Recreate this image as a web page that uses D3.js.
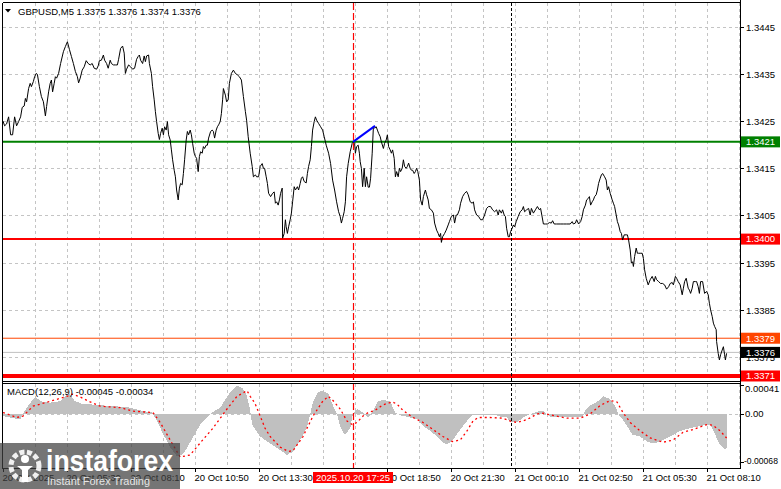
<!DOCTYPE html>
<html><head><meta charset="utf-8">
<script src="https://cdn.jsdelivr.net/npm/d3@7"></script>
<style>
body{margin:0;background:#fff;overflow:hidden}
text{font-family:'Liberation Sans',Arial,sans-serif;}
</style>
</head><body>
<svg id="c" width="781" height="489"></svg>
<script>
// ---------------- DATA ----------------
const symbolTitle = "GBPUSD,M5";
const ohlc = [1.3375, 1.3376, 1.3374, 1.3376];
const macdTitle = "MACD(12,26,9)";
const macdLast = [-0.00045, -0.00034];

// [minutes since 20 Oct 02:50, close]
const closeSeries = [
[0,1.34250],[4,1.34240],[9,1.34244],[14,1.34259],[19,1.34221],[24,1.34221],[29,1.34259],[34,1.34240],[39,1.34249],[44,1.34259],
[48,1.34279],[53,1.34282],[56,1.34298],[59,1.34291],[64,1.34319],[68,1.34330],[71,1.34323],[76,1.34334],[79,1.34344],[83,1.34351],
[86,1.34349],[91,1.34323],[96,1.34302],[101,1.34291],[106,1.34261],[109,1.34281],[114,1.34312],[118,1.34330],[121,1.34337],[124,1.34312],
[128,1.34330],[131,1.34344],[134,1.34341],[139,1.34351],[144,1.34372],[151,1.34397],[156,1.34408],[161,1.34418],[166,1.34402],[171,1.34387],
[176,1.34372],[181,1.34355],[186,1.34344],[189,1.34331],[193,1.34341],[198,1.34358],[203,1.34365],[208,1.34378],[213,1.34372],[218,1.34369],
[223,1.34372],[228,1.34362],[234,1.34360],[238,1.34367],[241,1.34378],[246,1.34379],[251,1.34390],[254,1.34379],[259,1.34372],[263,1.34362],
[268,1.34379],[271,1.34372],[276,1.34369],[281,1.34369],[286,1.34369],[289,1.34381],[294,1.34404],[299,1.34409],[303,1.34394],[306,1.34351],
[309,1.34360],[314,1.34369],[319,1.34365],[324,1.34360],[329,1.34362],[334,1.34381],[338,1.34387],[341,1.34390],[344,1.34379],[349,1.34372],
[353,1.34388],[356,1.34376],[359,1.34388],[364,1.34390],[366,1.34372],[371,1.34351],[374,1.34323],[378,1.34295],[381,1.34270],[384,1.34249],
[388,1.34224],[391,1.34211],[394,1.34224],[398,1.34235],[401,1.34221],[404,1.34238],[408,1.34231],[411,1.34249],[414,1.34221],[418,1.34210],
[421,1.34189],[424,1.34168],[428,1.34146],[431,1.34132],[434,1.34104],[438,1.34083],[441,1.34108],[444,1.34118],[448,1.34115],[451,1.34139],
[454,1.34168],[458,1.34210],[461,1.34228],[464,1.34221],[468,1.34231],[471,1.34221],[474,1.34203],[478,1.34182],[481,1.34175],[484,1.34171],
[488,1.34143],[491,1.34175],[494,1.34185],[498,1.34182],[501,1.34196],[504,1.34192],[508,1.34199],[511,1.34199],[514,1.34214],[519,1.34228],
[523,1.34231],[526,1.34228],[529,1.34214],[533,1.34231],[536,1.34238],[539,1.34242],[543,1.34249],[546,1.34266],[549,1.34295],[551,1.34319],
[556,1.34305],[559,1.34291],[563,1.34295],[566,1.34330],[571,1.34351],[576,1.34358],[581,1.34351],[586,1.34348],[591,1.34344],[596,1.34337],
[601,1.34302],[606,1.34270],[609,1.34252],[613,1.34217],[618,1.34182],[623,1.34154],[626,1.34132],[631,1.34136],[634,1.34132],[639,1.34132],
[643,1.34154],[648,1.34160],[651,1.34150],[654,1.34150],[658,1.34132],[661,1.34118],[664,1.34097],[669,1.34090],[674,1.34097],[678,1.34100],
[681,1.34076],[684,1.34079],[688,1.34072],[691,1.34083],[694,1.34097],[698,1.34108],[699,1.34002],[703,1.34012],[706,1.34041],[708,1.34026],
[711,1.34012],[714,1.34026],[718,1.34041],[721,1.34055],[724,1.34079],[728,1.34111],[731,1.34104],[736,1.34111],[739,1.34104],[743,1.34118],
[746,1.34129],[749,1.34132],[753,1.34122],[758,1.34119],[761,1.34139],[764,1.34154],[768,1.34168],[771,1.34196],[774,1.34231],[778,1.34249],
[781,1.34259],[784,1.34252],[789,1.34245],[794,1.34238],[799,1.34231],[803,1.34217],[808,1.34199],[814,1.34182],[819,1.34160],[824,1.34125],
[829,1.34104],[834,1.34079],[839,1.34058],[843,1.34048],[846,1.34034],[849,1.34044],[853,1.34058],[856,1.34079],[859,1.34132],[863,1.34160],
[868,1.34185],[873,1.34203],[876,1.34206],[879,1.34203],[881,1.34182],[884,1.34196],[888,1.34199],[891,1.34182],
[893,1.34164],[896,1.34150],[899,1.34111],[903,1.34150],[906,1.34111],[909,1.34132],[913,1.34110],[916,1.34110],[919,1.34129],[923,1.34182],
[926,1.34238],[929,1.34235],[933,1.34238],[936,1.34231],[939,1.34224],[943,1.34217],[946,1.34206],[951,1.34192],[954,1.34203],[958,1.34210],
[961,1.34221],[964,1.34196],[968,1.34189],[971,1.34182],[974,1.34189],[978,1.34171],[981,1.34132],[984,1.34143],[988,1.34132],[991,1.34150],
[994,1.34143],[998,1.34150],[1001,1.34168],[1004,1.34154],[1008,1.34150],[1011,1.34154],[1014,1.34161],[1018,1.34150],[1021,1.34146],[1024,1.34146],
[1028,1.34139],[1031,1.34143],[1034,1.34150],[1037,1.34143],[1041,1.34125],[1044,1.34083],[1048,1.34072],[1051,1.34090],[1056,1.34104],[1059,1.34094],
[1063,1.34083],[1066,1.34065],[1071,1.34062],[1076,1.34055],[1079,1.34034],[1084,1.34019],[1088,1.34012],[1091,1.34005],[1094,1.34012],[1096,1.33993],
[1099,1.34005],[1104,1.34012],[1108,1.34019],[1113,1.34030],[1116,1.34037],[1121,1.34048],[1126,1.34051],[1129,1.34034],[1133,1.34051],[1136,1.34051],
[1141,1.34062],[1144,1.34076],[1149,1.34090],[1154,1.34097],[1159,1.34101],[1163,1.34094],[1168,1.34079],[1173,1.34076],[1176,1.34079],[1179,1.34062],
[1184,1.34051],[1189,1.34048],[1194,1.34041],[1199,1.34041],[1204,1.34051],[1209,1.34065],[1214,1.34069],[1219,1.34069],[1224,1.34062],[1229,1.34058],
[1234,1.34062],[1238,1.34051],[1241,1.34062],[1246,1.34055],[1249,1.34062],[1253,1.34051],[1256,1.34048],[1259,1.34023],[1263,1.34005],[1266,1.34005],
[1269,1.34016],[1273,1.34023],[1276,1.34030],[1279,1.34026],[1283,1.34037],[1288,1.34048],[1293,1.34058],[1298,1.34062],[1301,1.34069],[1304,1.34058],
[1309,1.34062],[1314,1.34065],[1318,1.34051],[1321,1.34065],[1326,1.34055],[1331,1.34062],[1336,1.34069],[1341,1.34062],[1344,1.34065],[1347,1.34051],
[1351,1.34032],[1356,1.34032],[1361,1.34032],[1366,1.34035],[1371,1.34034],[1374,1.34039],[1378,1.34032],[1384,1.34032],[1393,1.34032],[1401,1.34032],
[1409,1.34032],[1418,1.34032],[1423,1.34037],[1426,1.34032],[1431,1.34034],[1434,1.34041],[1439,1.34032],[1444,1.34037],[1448,1.34048],[1451,1.34062],
[1456,1.34072],[1459,1.34083],[1463,1.34086],[1466,1.34090],[1469,1.34072],[1473,1.34079],[1476,1.34083],[1479,1.34090],[1483,1.34094],[1486,1.34104],
[1489,1.34118],[1493,1.34129],[1496,1.34136],[1499,1.34139],[1504,1.34132],[1508,1.34125],[1511,1.34104],[1514,1.34111],[1518,1.34097],[1523,1.34083],
[1526,1.34076],[1529,1.34069],[1533,1.34051],[1536,1.34037],[1539,1.34030],[1543,1.34016],[1546,1.34012],[1549,1.33998],[1553,1.34009],[1558,1.34009],
[1561,1.34009],[1564,1.33998],[1568,1.33977],[1571,1.33949],[1574,1.33952],[1576,1.33942],[1579,1.33963],[1583,1.33981],[1586,1.33970],[1589,1.33970],
[1593,1.33970],[1598,1.33970],[1601,1.33959],[1604,1.33935],[1608,1.33917],[1613,1.33903],[1618,1.33914],[1623,1.33921],[1628,1.33910],[1631,1.33921],
[1634,1.33914],[1639,1.33910],[1644,1.33906],[1649,1.33906],[1654,1.33903],[1659,1.33894],[1664,1.33899],[1668,1.33906],[1673,1.33908],[1676,1.33903],
[1681,1.33921],[1684,1.33917],[1688,1.33910],[1693,1.33903],[1698,1.33882],[1701,1.33896],[1704,1.33910],[1708,1.33917],[1713,1.33896],[1716,1.33892],
[1719,1.33885],[1723,1.33896],[1726,1.33910],[1731,1.33910],[1734,1.33910],[1738,1.33899],[1741,1.33885],[1744,1.33910],[1749,1.33910],[1754,1.33885],
[1759,1.33889],[1763,1.33882],[1766,1.33864],[1769,1.33850],[1773,1.33836],[1776,1.33822],[1779,1.33815],[1783,1.33808],[1784,1.33783],[1788,1.33758],
[1791,1.33744],[1794,1.33755],[1798,1.33765],[1801,1.33772],[1804,1.33755],[1806,1.33744],[1809,1.33758]
];

// MACD main (histogram) samples [minutes, value]
const macdSeries = [
[0,-0.00003],[18,-0.00005],[43,-0.00008],[50,0],[63,0.00012],[80,0.00024],[98,0.00017],[118,0.00016],[143,0.00018],[160,0.00027],
[168,0.00028],[180,0.00018],[200,0.00014],[235,0.00013],[268,0.00011],[310,0.00010],[343,0.00005],[373,0.00002],[385,-0.00010],[400,-0.00028],
[418,-0.00047],[435,-0.00060],[448,-0.00058],[460,-0.00048],[475,-0.00033],[493,-0.00015],[513,-0.00003],[525,0.00003],[543,0.00009],[568,0.00031],
[585,0.00040],[600,0.00036],[610,0.00025],[618,0.00005],[623,-0.00015],[643,-0.00032],[668,-0.00042],[693,-0.00051],[710,-0.00058],[725,-0.00053],
[743,-0.00037],[760,-0.00018],[768,0],[775,0.00017],[788,0.00031],[798,0.00033],[813,0.00029],[825,0.00012],[835,0],[843,-0.00018],
[855,-0.00030],[868,-0.00020],[875,0],[885,0.00007],[900,0.00002],[913,-0.00005],[925,0.00005],[938,0.00018],[950,0.00020],[968,0.00018],
[980,0.00002],[993,-0.00002],[1018,-0.00005],[1035,-0.00007],[1050,-0.00017],[1068,-0.00024],[1085,-0.00032],[1100,-0.00041],[1110,-0.00043],[1125,-0.00037],
[1143,-0.00022],[1160,-0.00010],[1173,-0.00002],[1200,-0.00002],[1235,-0.00002],[1243,-0.00004],[1260,-0.00005],[1268,-0.00012],[1285,-0.00012],[1300,-0.00005],
[1318,0],[1335,0.00003],[1348,0.00005],[1360,0],[1368,-0.00004],[1410,-0.00004],[1450,-0.00004],[1455,0.00005],[1468,0.00012],[1485,0.00017],
[1500,0.00025],[1518,0.00021],[1530,0.00012],[1538,0],[1548,-0.00007],[1560,-0.00017],[1573,-0.00029],[1593,-0.00032],[1610,-0.00039],[1625,-0.00042],
[1643,-0.00039],[1668,-0.00032],[1693,-0.00024],[1718,-0.00020],[1743,-0.00017],[1768,-0.00015],[1780,-0.00029],[1793,-0.00044],[1805,-0.00050],[1809,-0.00048]
];

// MACD signal samples [minutes, value]
const signalSeries = [
[0,0.00002],[35,-0.00005],[50,-0.00003],[75,0.00011],[118,0.00018],[160,0.00025],[173,0.00028],[193,0.00024],[218,0.00017],[243,0.00011],
[293,0.00009],[325,0.00004],[375,0.00002],[393,-0.00012],[418,-0.00037],[443,-0.00061],[468,-0.00058],[493,-0.00041],[525,-0.00020],[560,0.00007],
[585,0.00025],[610,0.00033],[618,0.00025],[630,0.00015],[643,-0.00003],[655,-0.00020],[668,-0.00032],[693,-0.00047],[713,-0.00053],[725,-0.00052],
[750,-0.00032],[775,-0.00003],[798,0.00017],[813,0.00025],[825,0.00019],[843,0.00007],[860,-0.00010],[873,-0.00015],[885,-0.00012],[900,-0.00003],
[913,0.00002],[930,0.00005],[950,0.00013],[973,0.00017],[985,0.00014],[1000,0.00005],[1025,-0.00005],[1050,-0.00012],[1075,-0.00022],[1100,-0.00032],
[1123,-0.00039],[1143,-0.00037],[1160,-0.00024],[1175,-0.00010],[1188,-0.00005],[1218,-0.00005],[1250,-0.00006],[1268,-0.00010],[1285,-0.00012],[1310,-0.00008],
[1335,0],[1350,0.00001],[1375,-0.00002],[1410,-0.00006],[1443,-0.00006],[1468,0],[1493,0.00012],[1518,0.00019],[1535,0.00017],[1550,0.00002],
[1568,-0.00012],[1593,-0.00024],[1618,-0.00034],[1650,-0.00040],[1675,-0.00037],[1700,-0.00026],[1725,-0.00022],[1760,-0.00015],[1775,-0.00016],[1793,-0.00024],
[1809,-0.00034]
];

// Trend line (blue) [minutes, price]
const trendSeries = [[875,1.34206],[930,1.34240]];

// Horizontal levels
const resistanceLevel = 1.34206;
const supportLevel = 1.3400;
const lowerLevel = 1.3371;
const askPrice = 1.3379;
const bidPrice = 1.3376;

// Axis ticks
const priceTicks = [1.3445,1.3435,1.3425,1.3415,1.3405,1.3395,1.3385,1.3375];
const macdTicks = [0.00041, 0, -0.00068];
const macdTickLabels = ["0.00041","0.00","-0.00068"];
const timeTickMinutes = [0,160,320,480,640,960,1120,1280,1440,1600,1760];
const timeTickLabels = ["20 Oct 2025","20 Oct 05:30","20 Oct 08:10","20 Oct 10:50","20 Oct 13:30",
  "20 Oct 18:50","20 Oct 21:30","21 Oct 00:10","21 Oct 02:50","21 Oct 05:30","21 Oct 08:10"];
const gridStepMinutes = 80;
const markerMinute = 875;              // 2025.10.20 17:25
const markerLabel = "2025.10.20 17:25";
const daySeparatorMinute = 1270;       // 21 Oct 00:00

// ---------------- DRAW ----------------
const svg = d3.select("#c");
const FS = 9.5;
const xL = 2.5, xR = 740.5, yT = 2.5, yMB = 381.5, yMT = 383.5, yB = 468.5;

const x = d3.scaleLinear().domain([0,1845]).range([3,741]);
const y = d3.scaleLinear().domain([1.3370,1.3450]).range([380.7,3.1]);
const ym = d3.scaleLinear().domain([-0.00068,0.00041]).range([462,385]);

svg.append("rect").attr("width",781).attr("height",489).attr("fill","#fff");

const defs = svg.append("defs");
defs.append("clipPath").attr("id","cm").append("rect").attr("x",3).attr("y",3).attr("width",737).attr("height",378);
defs.append("clipPath").attr("id","cd").append("rect").attr("x",3).attr("y",384).attr("width",737).attr("height",84);

const main = svg.append("g").attr("clip-path","url(#cm)");
const macdG = svg.append("g").attr("clip-path","url(#cd)");

const gridColor = "#c4c4c4";
const gridMinutes = d3.range(gridStepMinutes, 1845, gridStepMinutes);

// vertical grid
[ [main, 3, 381], [macdG, 384, 468] ].forEach(([g,a,b])=>{
  g.selectAll(null).data(gridMinutes).join("line")
    .attr("x1",d=>Math.round(x(d))+0.5).attr("x2",d=>Math.round(x(d))+0.5)
    .attr("y1",a).attr("y2",b)
    .attr("stroke",gridColor).attr("stroke-dasharray","3,3");
});
// horizontal grid
main.selectAll(null).data(priceTicks).join("line")
  .attr("x1",3).attr("x2",740).attr("y1",d=>Math.round(y(d))+0.5).attr("y2",d=>Math.round(y(d))+0.5)
  .attr("stroke",gridColor).attr("stroke-dasharray","3,3");
macdG.append("line").attr("x1",3).attr("x2",740)
  .attr("y1",Math.round(ym(0))+0.5).attr("y2",Math.round(ym(0))+0.5)
  .attr("stroke",gridColor).attr("stroke-dasharray","3,3");

// levels
const hl = (v,c,w)=> main.append("line").attr("x1",3).attr("x2",740).attr("y1",y(v)).attr("y2",y(v))
  .attr("stroke",c).attr("stroke-width",w);
hl(resistanceLevel,"#008000",2);
hl(supportLevel,"#ff0000",2);
hl(askPrice,"#ff4500",1);
hl(bidPrice,"#c0c0c0",1);
hl(lowerLevel,"#ff0000",4);

// price line
main.append("path").datum(closeSeries)
  .attr("d", d3.line().x(d=>x(d[0])).y(d=>y(d[1])))
  .attr("fill","none").attr("stroke","#000").attr("stroke-width",1)
  .attr("stroke-linejoin","miter");

// trend line
main.append("path").datum(trendSeries)
  .attr("d", d3.line().x(d=>x(d[0])).y(d=>y(d[1])))
  .attr("fill","none").attr("stroke","#0000ff").attr("stroke-width",2);

// MACD histogram
macdG.append("path").datum(macdSeries)
  .attr("d", d3.area().x(d=>x(d[0])).y0(ym(0)).y1(d=>ym(d[1])))
  .attr("fill","#c0c0c0").attr("shape-rendering","crispEdges");
// signal
macdG.append("path").datum(signalSeries)
  .attr("d", d3.line().x(d=>x(d[0])).y(d=>ym(d[1])))
  .attr("fill","none").attr("stroke","#ff0000").attr("stroke-width",1.3)
  .attr("stroke-dasharray","2,3");

// vertical markers
svg.append("line").attr("x1",Math.round(x(markerMinute))+0.5).attr("x2",Math.round(x(markerMinute))+0.5)
  .attr("y1",3).attr("y2",468).attr("stroke","#ff0000").attr("stroke-width",1.2).attr("stroke-dasharray","7,3");
svg.append("line").attr("x1",Math.round(x(daySeparatorMinute))+0.5).attr("x2",Math.round(x(daySeparatorMinute))+0.5)
  .attr("y1",3).attr("y2",468).attr("stroke","#000").attr("stroke-dasharray","3,2");

// frames
const fr = svg.append("g").attr("stroke","#000").attr("stroke-width",1).attr("shape-rendering","crispEdges");
fr.append("line").attr("x1",xL).attr("x2",xR).attr("y1",yT).attr("y2",yT);
fr.append("line").attr("x1",xL).attr("x2",xR).attr("y1",yMB).attr("y2",yMB);
fr.append("line").attr("x1",xL).attr("x2",xR).attr("y1",yMT).attr("y2",yMT);
fr.append("line").attr("x1",xL).attr("x2",xR).attr("y1",yB).attr("y2",yB);
fr.append("line").attr("x1",xL).attr("x2",xL).attr("y1",yT).attr("y2",yB);
fr.append("line").attr("x1",xR).attr("x2",xR).attr("y1",0).attr("y2",yB);

// right price axis
const fmt4 = d3.format(".4f");
priceTicks.forEach(v=>{
  const yy = Math.round(y(v))+0.5;
  svg.append("line").attr("x1",740).attr("x2",744).attr("y1",yy).attr("y2",yy).attr("stroke","#000");
  svg.append("text").attr("x",746).attr("y",yy).attr("dy","0.35em").attr("font-size",FS).attr("fill","#000").text(fmt4(v));
});
const box = (v,bg,fg)=>{
  const yy = y(v);
  svg.append("rect").attr("x",741).attr("y",yy-5.5).attr("width",39).attr("height",11).attr("fill",bg);
  svg.append("text").attr("x",746).attr("y",yy).attr("dy","0.35em").attr("font-size",FS).attr("fill",fg).text(fmt4(v));
};
box(resistanceLevel,"#008000","#fff");
box(supportLevel,"#ff0000","#fff");
box(askPrice,"#ff4500","#fff");
box(bidPrice,"#000","#fff");
box(lowerLevel,"#ff0000","#fff");

// MACD axis
macdTicks.forEach((v,i)=>{
  const yy = Math.max(389, Math.min(461, ym(v)));
  const lbl = macdTickLabels[i];
  svg.append("line").attr("x1",740).attr("x2",744).attr("y1",Math.round(ym(v))+0.5).attr("y2",Math.round(ym(v))+0.5).attr("stroke","#000");
  svg.append("text").attr("x", lbl.length > 7 ? 744 : 745).attr("y",yy).attr("dy","0.35em")
    .attr("font-size", lbl.length > 7 ? 8.6 : FS).attr("fill","#000").text(lbl);
});

// time axis
timeTickMinutes.forEach((m,i)=>{
  const xx = Math.round(x(m))+0.5;
  svg.append("line").attr("x1",xx).attr("x2",xx).attr("y1",468).attr("y2",472).attr("stroke","#000");
  svg.append("text").attr("x",x(m)-0.5).attr("y",481).attr("font-size",FS).attr("fill","#000").text(timeTickLabels[i]);
});
// highlighted marker label
const mx = x(markerMinute);
svg.append("rect").attr("x",mx-40).attr("y",472).attr("width",80).attr("height",11).attr("fill","#ff0000");
svg.append("text").attr("x",mx).attr("y",481).attr("text-anchor","middle").attr("font-size",FS).attr("fill","#fff").text(markerLabel);

// titles
svg.append("path").attr("d","M5,9 L11,9 L8,12.5 Z").attr("fill","#000");
svg.append("text").attr("x",18).attr("y",15).attr("font-size",FS).attr("fill","#000")
  .text(symbolTitle + "  " + ohlc.map(fmt4).join(" "));
const fmt5 = d3.format(".5f");
svg.append("text").attr("x",7).attr("y",395).attr("font-size",FS).attr("fill","#000")
  .text(macdTitle + " " + macdLast.map(v=>fmt5(v).replace("−","-")).join(" "));

// watermark
const wm = svg.append("g");
wm.append("rect").attr("x",0).attr("y",443).attr("width",180).attr("height",46).attr("fill","#404040").attr("opacity",0.72);
const ic = wm.append("g").attr("fill","none").attr("stroke","#fff");
ic.append("circle").attr("cx",25).attr("cy",466).attr("r",14).attr("stroke-width",5).attr("stroke-dasharray","5,2.5").attr("opacity",0.9);
wm.append("circle").attr("cx",25).attr("cy",459).attr("r",4).attr("fill","#fff");
wm.append("path").attr("d","M17,466 L33,466 L28,470 L28,482 L22,482 L22,470 Z").attr("fill","#fff");
wm.append("text").attr("x",46).attr("y",471).attr("font-size",29).attr("font-family","'Open Sans',Lato,sans-serif")
  .attr("font-weight",600).attr("fill","#fff").attr("textLength",127).attr("lengthAdjust","spacingAndGlyphs").text("instaforex");
wm.append("text").attr("x",47).attr("y",485).attr("font-size",11).attr("fill","#e6e6e6")
  .attr("textLength",103).attr("lengthAdjust","spacingAndGlyphs").text("Instant Forex Trading");
</script>
</body></html>
